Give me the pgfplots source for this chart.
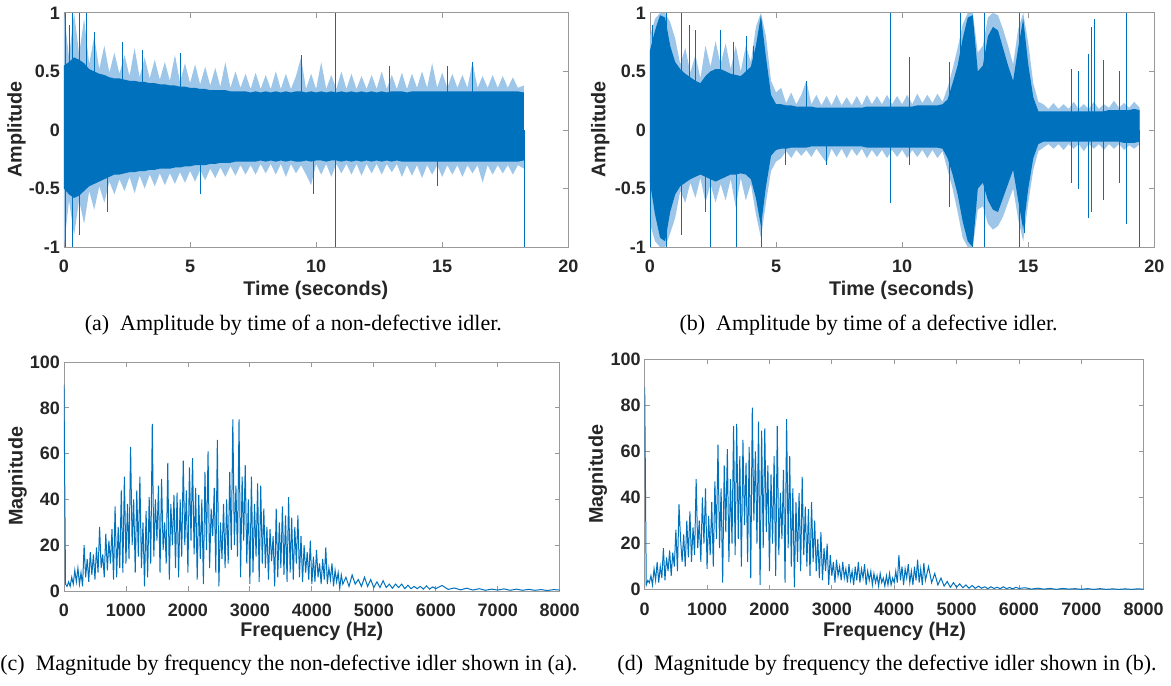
\documentclass[border=0pt]{standalone}
\usepackage{fontspec}
\setmainfont{Liberation Serif}
\setsansfont{Liberation Sans}
\usepackage{pgfplots}
\pgfplotsset{compat=1.18}
\usepackage{pgfplotstable}
\usepgfplotslibrary{fillbetween}

\definecolor{mblue}{HTML}{0072BD}
\definecolor{lblue}{HTML}{9DC6E8}
\definecolor{axgray}{HTML}{262626}

% envelopes of the two time signals: t, light upper, dark upper, dark lower, light lower
\pgfplotstableread{
t lu du dl ll
0.0 1.00 0.55 -0.50 -1.00
0.2 0.62 0.58 -0.55 -0.60
0.4 1.00 0.62 -0.58 -0.90
0.6 0.65 0.60 -0.56 -0.60
0.8 0.95 0.57 -0.52 -0.80
1.0 0.56 0.52 -0.48 -0.52
1.2 0.80 0.50 -0.46 -0.68
1.4 0.52 0.48 -0.44 -0.48
1.6 0.72 0.47 -0.42 -0.62
1.8 0.49 0.45 -0.40 -0.44
2.0 0.66 0.44 -0.38 -0.55
2.2 0.48 0.44 -0.38 -0.42
2.4 0.64 0.43 -0.37 -0.52
2.6 0.46 0.42 -0.36 -0.40
2.8 0.70 0.42 -0.36 -0.54
3.0 0.45 0.41 -0.35 -0.39
3.2 0.62 0.41 -0.35 -0.50
3.4 0.44 0.40 -0.34 -0.38
3.6 0.60 0.40 -0.34 -0.48
3.8 0.43 0.39 -0.33 -0.37
4.0 0.58 0.39 -0.33 -0.47
4.2 0.42 0.38 -0.33 -0.37
4.4 0.64 0.38 -0.32 -0.46
4.6 0.41 0.37 -0.32 -0.36
4.8 0.57 0.37 -0.31 -0.45
5.0 0.40 0.36 -0.31 -0.35
5.2 0.56 0.36 -0.30 -0.44
5.4 0.39 0.35 -0.30 -0.34
5.6 0.54 0.35 -0.30 -0.43
5.8 0.38 0.34 -0.29 -0.33
6.0 0.53 0.34 -0.29 -0.41
6.2 0.37 0.34 -0.28 -0.32
6.4 0.58 0.34 -0.28 -0.40
6.6 0.36 0.33 -0.28 -0.31
6.8 0.50 0.33 -0.27 -0.39
7.0 0.36 0.33 -0.27 -0.30
7.2 0.48 0.33 -0.27 -0.38
7.4 0.35 0.32 -0.27 -0.30
7.6 0.49 0.33 -0.27 -0.38
7.8 0.35 0.32 -0.26 -0.29
8.0 0.47 0.33 -0.27 -0.37
8.2 0.35 0.32 -0.26 -0.29
8.4 0.50 0.33 -0.27 -0.38
8.6 0.35 0.32 -0.26 -0.29
8.8 0.48 0.33 -0.27 -0.40
9.0 0.35 0.32 -0.26 -0.29
9.2 0.46 0.33 -0.27 -0.37
9.4 0.62 0.33 -0.27 -0.30
9.6 0.35 0.32 -0.26 -0.38
9.8 0.48 0.33 -0.27 -0.47
10.0 0.35 0.32 -0.26 -0.29
10.2 0.58 0.33 -0.26 -0.38
10.4 0.35 0.32 -0.27 -0.29
10.6 0.47 0.33 -0.26 -0.40
10.8 0.35 0.32 -0.26 -0.29
11.0 0.50 0.33 -0.27 -0.37
11.2 0.35 0.32 -0.26 -0.29
11.4 0.48 0.33 -0.27 -0.38
11.6 0.35 0.32 -0.26 -0.29
11.8 0.46 0.33 -0.27 -0.39
12.0 0.35 0.32 -0.26 -0.29
12.2 0.47 0.33 -0.27 -0.37
12.4 0.35 0.32 -0.26 -0.29
12.6 0.50 0.33 -0.27 -0.38
12.8 0.35 0.32 -0.26 -0.29
13.0 0.47 0.33 -0.27 -0.36
13.2 0.35 0.33 -0.26 -0.29
13.4 0.49 0.33 -0.27 -0.40
13.6 0.35 0.32 -0.27 -0.30
13.8 0.48 0.33 -0.27 -0.39
14.0 0.36 0.33 -0.27 -0.30
14.2 0.50 0.33 -0.27 -0.41
14.4 0.36 0.33 -0.27 -0.30
14.6 0.57 0.33 -0.27 -0.38
14.8 0.36 0.33 -0.27 -0.30
15.0 0.49 0.33 -0.27 -0.40
15.2 0.36 0.33 -0.27 -0.30
15.4 0.48 0.33 -0.27 -0.38
15.6 0.36 0.33 -0.27 -0.30
15.8 0.47 0.33 -0.27 -0.40
16.0 0.36 0.33 -0.27 -0.30
16.2 0.58 0.33 -0.27 -0.37
16.4 0.36 0.33 -0.27 -0.30
16.6 0.46 0.33 -0.27 -0.45
16.8 0.36 0.33 -0.27 -0.30
17.0 0.47 0.33 -0.27 -0.38
17.2 0.36 0.33 -0.27 -0.30
17.4 0.46 0.33 -0.27 -0.37
17.6 0.36 0.33 -0.27 -0.30
17.8 0.45 0.33 -0.27 -0.38
18.0 0.36 0.33 -0.27 -0.30
18.24 0.38 0.32 -0.26 -0.33
}\sigA

\pgfplotstableread{
t lu du dl ll
0.0 0.80 0.68 -0.45 -0.80
0.2 0.95 0.85 -0.72 -0.95
0.4 1.00 0.98 -0.92 -1.00
0.6 1.00 0.96 -0.95 -1.00
0.8 0.92 0.72 -0.70 -0.88
1.0 0.78 0.58 -0.55 -0.75
1.2 0.56 0.52 -0.48 -0.52
1.4 0.70 0.48 -0.45 -0.62
1.6 0.49 0.45 -0.42 -0.45
1.8 0.64 0.42 -0.40 -0.58
2.0 0.44 0.40 -0.38 -0.41
2.2 0.72 0.46 -0.40 -0.62
2.4 0.54 0.50 -0.42 -0.46
2.6 0.76 0.52 -0.44 -0.62
2.8 0.56 0.52 -0.42 -0.46
3.0 0.74 0.50 -0.40 -0.60
3.2 0.52 0.48 -0.38 -0.42
3.4 0.72 0.47 -0.38 -0.66
3.6 0.50 0.46 -0.37 -0.41
3.8 0.72 0.50 -0.38 -0.60
4.0 0.58 0.54 -0.42 -0.46
4.2 0.88 0.72 -0.58 -0.72
4.4 1.00 0.98 -0.82 -0.92
4.6 0.80 0.62 -0.48 -0.62
4.8 0.42 0.30 -0.22 -0.35
5.0 0.32 0.22 -0.17 -0.27
5.2 0.36 0.22 -0.16 -0.24
5.4 0.23 0.21 -0.16 -0.18
5.6 0.32 0.21 -0.15 -0.24
5.8 0.22 0.20 -0.15 -0.17
6.0 0.30 0.20 -0.15 -0.22
6.2 0.42 0.20 -0.15 -0.17
6.4 0.22 0.20 -0.14 -0.23
6.6 0.30 0.19 -0.14 -0.16
6.8 0.21 0.19 -0.14 -0.22
7.0 0.29 0.19 -0.14 -0.28
7.2 0.21 0.19 -0.14 -0.16
7.4 0.30 0.19 -0.14 -0.23
7.6 0.21 0.19 -0.14 -0.16
7.8 0.28 0.19 -0.14 -0.24
8.0 0.21 0.19 -0.14 -0.16
8.2 0.29 0.19 -0.14 -0.22
8.4 0.21 0.19 -0.14 -0.16
8.6 0.30 0.20 -0.15 -0.24
8.8 0.22 0.20 -0.15 -0.17
9.0 0.29 0.20 -0.15 -0.23
9.2 0.22 0.20 -0.15 -0.17
9.4 0.30 0.20 -0.15 -0.24
9.6 0.22 0.20 -0.15 -0.17
9.8 0.29 0.20 -0.15 -0.23
10.0 0.22 0.20 -0.15 -0.17
10.2 0.30 0.20 -0.15 -0.24
10.4 0.22 0.20 -0.15 -0.17
10.6 0.31 0.21 -0.15 -0.23
10.8 0.23 0.21 -0.15 -0.17
11.0 0.30 0.21 -0.15 -0.24
11.2 0.23 0.21 -0.15 -0.17
11.4 0.31 0.21 -0.15 -0.24
11.6 0.24 0.22 -0.16 -0.18
11.8 0.36 0.26 -0.24 -0.34
12.0 0.52 0.40 -0.38 -0.50
12.2 0.70 0.55 -0.55 -0.70
12.4 0.90 0.78 -0.78 -0.92
12.6 1.00 0.96 -0.95 -1.00
12.8 1.00 0.98 -1.00 -1.00
13.0 0.66 0.50 -0.50 -0.68
13.2 0.72 0.55 -0.45 -0.65
13.4 0.96 0.80 -0.60 -0.80
13.6 1.00 0.88 -0.68 -0.85
13.8 0.98 0.85 -0.70 -0.82
14.0 0.86 0.70 -0.58 -0.74
14.2 0.72 0.55 -0.46 -0.62
14.4 0.56 0.42 -0.34 -0.50
14.6 0.86 0.70 -0.60 -0.76
14.8 1.00 0.95 -0.85 -0.95
15.0 0.74 0.56 -0.50 -0.62
15.2 0.40 0.28 -0.24 -0.34
15.4 0.24 0.16 -0.12 -0.18
15.6 0.22 0.16 -0.10 -0.15
15.8 0.18 0.16 -0.10 -0.12
16.0 0.23 0.16 -0.10 -0.16
16.2 0.18 0.16 -0.10 -0.12
16.4 0.22 0.16 -0.10 -0.17
16.6 0.18 0.16 -0.10 -0.12
16.8 0.24 0.16 -0.10 -0.16
17.0 0.18 0.16 -0.10 -0.12
17.2 0.22 0.16 -0.10 -0.18
17.4 0.18 0.16 -0.10 -0.12
17.6 0.24 0.16 -0.10 -0.16
17.8 0.18 0.16 -0.10 -0.12
18.0 0.22 0.16 -0.10 -0.17
18.2 0.19 0.17 -0.10 -0.12
18.4 0.25 0.17 -0.10 -0.16
18.6 0.19 0.17 -0.10 -0.12
18.8 0.23 0.17 -0.11 -0.17
19.0 0.19 0.17 -0.11 -0.13
19.2 0.24 0.18 -0.11 -0.16
19.42 0.19 0.17 -0.10 -0.12
}\sigB

\pgfplotsset{
  mat/.style={
    scale only axis, anchor=south west,
    axis line style={black!40, line width=0.4pt},
    every tick/.style={black!40, line width=0.4pt},
    tick align=inside, major tick length=2.5pt,
    xtick pos=both, ytick pos=both,
    tick label style={font=\sffamily\bfseries\fontsize{9}{10}\selectfont, text=axgray},
    xticklabel style={yshift=-3pt},
    yticklabel style={xshift=1.5pt},
  },
  amp/.style={mat, width=252.3pt, height=117.2pt,
    xmin=0, xmax=20, ymin=-1, ymax=1,
    xtick={0,5,10,15,20}, xticklabels={0,5,10,15,20},
    ytick={-1,-0.5,0,0.5,1}, yticklabels={-1,-0.5,0,0.5,1}},
  mag/.style={mat, xmin=0, xmax=8000, ymin=0, ymax=100,
    xtick={0,1000,2000,3000,4000,5000,6000,7000,8000},
    xticklabels={0,1000,2000,3000,4000,5000,6000,7000,8000},
    ytick={0,20,40,60,80,100}, yticklabels={0,20,40,60,80,100}},
}

\newcommand{\lab}{\sffamily\bfseries\fontsize{9.9}{11}\selectfont\color{axgray}}
\newcommand{\capf}{\rmfamily\fontsize{11}{13}\selectfont}

\begin{document}
\begin{tikzpicture}
\path (0,0) rectangle (585.5pt,-342.5pt);

% (a)
\begin{axis}[amp, at={(32pt,-123.35pt)}]
\addplot[draw=none, name path=lu] table[x=t, y=lu] {\sigA};
\addplot[draw=none, name path=ll] table[x=t, y=ll] {\sigA};
\addplot[lblue] fill between[of=lu and ll];
\addplot[draw=none, name path=du] table[x=t, y=du] {\sigA};
\addplot[draw=none, name path=dl] table[x=t, y=dl] {\sigA};
\addplot[mblue] fill between[of=du and dl];
\addplot[ycomb, mblue, line width=0.25pt, mark=none] coordinates {
(0.07,1) (0.07,-1) (0.2,0.9) (0.34,-1) (0.34,1) (0.6,1) (0.6,-0.9) (0.87,1)
(1.2,0.84) (1.7,-0.7) (2.3,0.75) (3.1,0.68) (4.6,0.66) (5.4,-0.55) (9.4,0.64)
(9.9,-0.55) (10.75,1) (10.75,-1) (12.9,0.55) (14.8,-0.48) (15.2,0.55) (16.2,0.58) (18.24,-1)};
\end{axis}

% (b)
\begin{axis}[amp, at={(325.15pt,-123.35pt)}]
\addplot[draw=none, name path=lu] table[x=t, y=lu] {\sigB};
\addplot[draw=none, name path=ll] table[x=t, y=ll] {\sigB};
\addplot[lblue] fill between[of=lu and ll];
\addplot[draw=none, name path=du] table[x=t, y=du] {\sigB};
\addplot[draw=none, name path=dl] table[x=t, y=dl] {\sigB};
\addplot[mblue] fill between[of=du and dl];
\addplot[ycomb, mblue, line width=0.25pt, mark=none] coordinates {
(0.03,-1) (0.1,0.9) (0.65,1) (0.65,-1) (1.24,1) (1.24,-0.9) (1.57,0.9) (1.8,0.85)
(2.2,-0.7) (2.37,-1) (2.8,0.85) (3.3,0.75) (3.43,-1) (3.8,0.8) (4.1,0.72) (4.42,-1)
(5.36,-0.3) (6.2,0.42) (7.0,-0.3) (9.54,1) (9.54,-0.62) (10.27,0.62) (10.27,-0.3)
(11.87,0.58) (11.87,-0.66) (12.29,1) (13.25,1) (13.25,-1) (14.64,1) (14.64,-1)
(14.83,-0.88) (16.72,0.52) (16.72,-0.45) (16.97,0.5) (16.97,-0.5) (17.37,0.65)
(17.37,-0.75) (17.48,0.88) (17.48,-0.7) (17.6,0.95) (17.98,0.6) (17.98,-0.6)
(18.6,0.5) (18.6,-0.45) (18.88,1) (18.88,-0.8) (19.42,-1)};
\end{axis}

% (c)
\begin{axis}[mag, at={(32pt,-295.35pt)}, width=248pt, height=114.5pt]
\addplot[mblue, line width=0.5pt, mark=none] coordinates {
(0,90)(25,3)(50,2)(75,4)(100,2)(125,6)(150,3)(175,9)(200,4)
(225,10)(250,3)(275,8)(300,2)(325,20)(350,6)(375,14)(400,4)(425,17)(450,7)(475,16)(500,5)
(525,19)(550,8)(575,28)(600,10)(625,16)(650,6)(675,25)(700,9)(725,22)(750,12)(775,27)(800,5)
(825,37)(850,6)(875,28)(900,10)(925,44)(950,8)(975,50)(1000,12)
(1025,38)(1050,14)(1075,63)(1100,20)(1125,40)(1150,8)(1175,44)(1200,15)
(1225,50)(1250,10)(1275,30)(1300,2)(1325,35)(1350,6)(1375,41)(1400,12)
(1425,73)(1450,15)(1475,40)(1500,22)(1525,46)(1550,8)(1575,49)(1600,18)
(1625,30)(1650,12)(1675,56)(1700,5)(1725,38)(1750,20)(1775,42)(1800,10)
(1825,43)(1850,6)(1875,40)(1900,15)(1925,57)(1950,20)(1975,44)(2000,8)
(2025,54)(2050,22)(2075,58)(2100,16)(2125,45)(2150,5)(2175,42)(2200,14)
(2225,40)(2250,3)(2275,52)(2300,18)(2325,61)(2350,10)(2375,36)(2400,24)
(2425,45)(2450,8)(2475,66)(2500,2)(2525,30)(2550,14)(2575,38)(2600,10)
(2625,40)(2650,12)(2675,52)(2700,18)(2725,75)(2750,20)(2775,46)(2800,15)
(2825,75)(2850,6)(2875,50)(2900,22)(2925,55)(2950,12)(2975,40)(3000,3)
(3025,50)(3050,8)(3075,38)(3100,15)(3125,47)(3150,4)(3175,46)(3200,12)
(3225,36)(3250,10)(3275,28)(3300,5)(3325,27)(3350,13)(3375,24)(3400,2)
(3425,36)(3450,6)(3475,30)(3500,10)(3525,37)(3550,7)(3575,33)(3600,4)
(3625,41)(3650,8)(3675,32)(3700,5)(3725,28)(3750,12)(3775,33)(3800,6)
(3825,24)(3850,4)(3875,20)(3900,8)(3925,17)(3950,5)(3975,22)(4000,3)
(4025,15)(4050,4)(4075,18)(4100,6)(4125,12)(4150,3)(4175,14)(4200,5)
(4225,19)(4250,3)(4275,10)(4300,5)(4325,12)(4350,2)(4375,9)(4400,4)
(4425,8)(4450,1)(4475,7)(4500,3)
(4550,6)(4600,2)(4650,7)(4700,3)(4750,5)(4800,2)(4850,6)(4900,2)(4950,5)(5000,1.5)
(5050,4)(5100,1.5)(5150,4.5)(5200,1.5)(5250,3)(5300,1.2)(5350,3)(5400,1.5)(5450,3)(5500,1)
(5550,2.5)(5600,1)(5650,2)(5700,1)(5750,2)(5800,0.8)(5850,2.2)(5900,0.8)(5950,1.8)(6000,1)
(6100,2.4)(6200,0.7)(6300,1.3)(6400,0.5)(6500,1.2)(6600,0.4)(6700,1)(6800,0.3)(6900,0.8)(7000,0.4)
(7100,0.9)(7200,0.3)(7300,0.8)(7400,0.3)(7500,0.7)(7600,0.3)(7700,0.6)(7800,0.2)(7900,0.6)(8000,0.4)};
\end{axis}

% (d)
\begin{axis}[mag, at={(322.5pt,-294.65pt)}, width=249.65pt, height=115.15pt]
\addplot[mblue, line width=0.5pt, mark=none] coordinates {
(0,88)(25,2)(50,4)(75,3)(100,6)(125,2)(150,9)(175,4)(200,12)
(225,3)(250,10)(275,5)(300,18)(325,4)(350,14)(375,8)(400,17)
(425,6)(450,16)(475,10)(500,26)(525,8)(550,37)(575,22)(600,12)
(625,24)(650,10)(675,30)(700,14)(725,34)(750,12)(775,27)(800,15)
(825,48)(850,18)(875,30)(900,12)(925,40)(950,20)(975,44)(1000,9)
(1025,32)(1050,15)(1075,38)(1100,10)(1125,47)(1150,22)(1175,63)(1200,18)
(1225,44)(1250,3)(1275,54)(1300,25)(1325,61)(1350,12)(1375,48)(1400,20)
(1425,71)(1450,15)(1475,72)(1500,22)(1525,58)(1550,10)(1575,65)(1600,28)
(1625,55)(1650,12)(1675,62)(1700,5)(1725,79)(1750,30)(1775,60)(1800,20)
(1825,73)(1850,2)(1875,69)(1900,18)(1925,70)(1950,25)(1975,54)(2000,8)
(2025,50)(2050,20)(2075,58)(2100,6)(2125,71)(2150,15)(2175,42)(2200,22)
(2225,52)(2250,3)(2275,74)(2300,18)(2325,58)(2350,10)(2375,44)(2400,1)
(2425,38)(2450,12)(2475,42)(2500,8)(2525,49)(2550,15)(2575,36)(2600,10)
(2625,35)(2650,6)(2675,38)(2700,12)(2725,30)(2750,8)(2775,22)(2800,5)
(2825,25)(2850,4)(2875,18)(2900,8)(2925,20)(2950,2)(2975,15)(3000,6)
(3025,12)(3050,3)(3075,13)(3100,6)(3125,10)(3150,4)(3175,12)(3200,5)
(3225,9)(3250,3)(3275,11)(3300,4)(3325,8)(3350,2)(3375,10)(3400,4)
(3425,12)(3450,3)(3475,9)(3500,5)(3525,11)(3550,2)(3575,8)(3600,4)
(3625,8)(3650,2)(3675,7)(3700,3)(3725,6)(3750,1.5)(3775,7)(3800,3)
(3825,5)(3850,1.5)(3875,6)(3900,2)(3925,7)(3950,2)(3975,5)(4000,3)
(4025,8)(4050,3)(4075,15)(4100,4)(4125,10)(4150,2)(4175,9)(4200,5)
(4225,11)(4250,3)(4275,8)(4300,2)(4325,10)(4350,4)(4375,13)(4400,3)
(4425,9)(4450,2)(4475,11.6)(4500,4)
(4550,10)(4600,3)(4650,7)(4700,2)(4750,5)(4800,1.5)(4850,3.5)(4900,1)(4950,3)(5000,1)
(5050,2.5)(5100,0.8)(5150,2)(5200,0.6)(5250,1.8)(5300,0.5)(5350,1.5)(5400,0.6)(5450,1.2)(5500,0.4)
(5550,1.2)(5600,0.5)(5650,1)(5700,0.4)(5750,1.2)(5800,0.4)(5850,0.9)(5900,0.3)(5950,1)(6000,0.5)
(6100,0.8)(6200,0.2)(6300,0.6)(6400,0.2)(6500,0.5)(6600,0.1)(6700,0.5)(6800,0.2)(6900,0.4)(7000,0.1)
(7100,0.4)(7200,0.1)(7300,0.4)(7400,0.1)(7500,0.3)(7600,0.1)(7700,0.3)(7800,0.1)(7900,0.3)(8000,0.2)};
\end{axis}

\begin{scope}[every node/.style={inner sep=0pt}]
% axis labels
\node[rotate=90] at (8.25pt,-64.5pt) {\lab Amplitude};
\node[rotate=90] at (300.25pt,-64.5pt) {\lab Amplitude};
\node at (158pt,-144.75pt) {\lab Time (seconds)};
\node at (451pt,-144.75pt) {\lab Time (seconds)};
\node[rotate=90] at (8.75pt,-238pt) {\lab Magnitude};
\node[rotate=90] at (299pt,-237pt) {\lab Magnitude};
\node at (156pt,-315.5pt) {\lab Frequency (Hz)};
\node at (447.5pt,-315.5pt) {\lab Frequency (Hz)};

% captions
\node at (146.75pt,-162.5pt) {\capf (a)\ \ Amplitude by time of a non-defective idler.};
\node at (434.5pt,-162.5pt) {\capf (b)\ \ Amplitude by time of a defective idler.};
\node at (144.5pt,-332.5pt) {\capf (c)\ \ Magnitude by frequency the non-defective idler shown in (a).};
\node at (443.75pt,-332.5pt) {\capf (d)\ \ Magnitude by frequency the defective idler shown in (b).};
\end{scope}
\end{tikzpicture}
\end{document}
